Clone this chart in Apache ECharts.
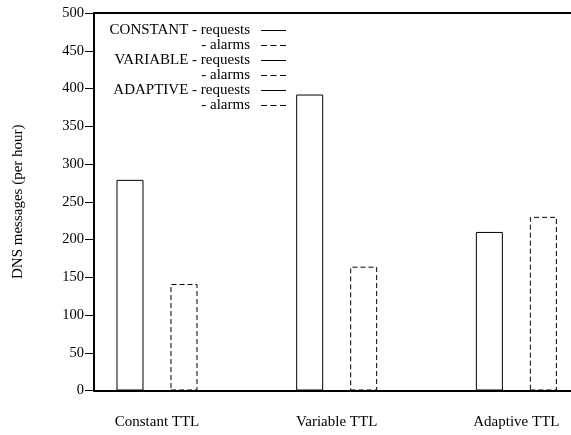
<!DOCTYPE html>
<html>
<head>
<meta charset="utf-8">
<script src="https://cdn.jsdelivr.net/npm/echarts@6/dist/echarts.min.js"></script>
<style>
  html, body { margin: 0; padding: 0; background: #fff; }
  #chart { width: 571px; height: 435px; }
</style>
</head>
<body>
<div id="chart"></div>
<script>
// DNS traffic per TTL strategy
const categories = ['Constant TTL', 'Variable TTL', 'Adaptive TTL'];
const strategies = ['CONSTANT', 'VARIABLE', 'ADAPTIVE'];
const requests = [279, 392, 210];
const alarms = [141, 164, 230];
const yTicks = [0, 50, 100, 150, 200, 250, 300, 350, 400, 450, 500];

const FONT = 'Liberation Serif, Times New Roman, serif';
const SOLID_ICON = 'path://M0,0H25V1H0Z';
const DASH_ICON = 'path://M0,0H6V1H0Z M9.5,0H15.5V1H9.5Z M19,0H25V1H19Z';

const legendLabels = {};
const legendData = [];
const series = [];

strategies.forEach((s, i) => {
  const reqName = s + ' requests';
  const almName = s + ' alarms';
  legendLabels[reqName] = s + ' - requests';
  legendLabels[almName] = '- alarms';
  legendData.push({ name: reqName, icon: SOLID_ICON });
  legendData.push({ name: almName, icon: DASH_ICON });

  series.push({
    name: reqName,
    type: 'bar',
    stack: 'requests',
    barWidth: 27,
    barGap: '100%',
    data: [[i, requests[i]]],
    itemStyle: { color: '#fff', borderColor: '#000', borderWidth: 1, borderType: 'solid' },
    emphasis: { disabled: true }
  });
  series.push({
    name: almName,
    type: 'bar',
    stack: 'alarms',
    barWidth: 27,
    barGap: '100%',
    data: [[i, alarms[i]]],
    itemStyle: { color: '#fff', borderColor: '#000', borderWidth: 1, borderType: [5, 3] },
    emphasis: { disabled: true }
  });
});

const xMin = -0.3506;
const xMax = 2.304;

const chart = echarts.init(document.getElementById('chart'), null, { renderer: 'canvas' });
chart.setOption({
  animation: false,
  backgroundColor: '#fff',
  textStyle: { fontFamily: FONT, color: '#000' },
  grid: { left: 94, right: 0, top: 13, bottom: 44.5, containLabel: false },
  legend: {
    data: legendData,
    orient: 'vertical',
    align: 'right',
    right: 285,
    top: 23,
    padding: 0,
    itemWidth: 25,
    itemHeight: 1,
    itemGap: 0,
    selectedMode: false,
    itemStyle: { color: '#000', borderWidth: 0, borderColor: 'transparent' },
    formatter: name => '{t|' + legendLabels[name] + '}',
    textStyle: {
      fontFamily: FONT,
      fontSize: 15,
      color: '#000',
      rich: { t: { fontFamily: FONT, fontSize: 15, color: '#000', padding: [0, 6, 0, 0] } }
    }
  },
  xAxis: [
    {
      type: 'value',
      position: 'bottom',
      min: xMin,
      max: xMax,
      axisLine: { show: true, onZero: false, lineStyle: { color: '#000', width: 2 } },
      axisTick: { show: false },
      splitLine: { show: false },
      axisLabel: {
        customValues: [0, 1, 2],
        formatter: v => categories[Math.round(v)],
        margin: 24,
        fontFamily: FONT,
        fontSize: 15,
        color: '#000'
      }
    },
    {
      type: 'value',
      position: 'top',
      min: xMin,
      max: xMax,
      axisLine: { show: true, onZero: false, lineStyle: { color: '#000', width: 2 } },
      axisTick: { show: false },
      axisLabel: { show: false },
      splitLine: { show: false }
    }
  ],
  yAxis: {
    type: 'value',
    position: 'left',
    min: yTicks[0],
    max: yTicks[yTicks.length - 1],
    interval: 50,
    name: 'DNS messages (per hour)',
    nameLocation: 'middle',
    nameGap: 68,
    nameTextStyle: { fontFamily: FONT, fontSize: 15, color: '#000' },
    axisLine: { show: true, onZero: false, lineStyle: { color: '#000', width: 2 } },
    axisTick: { show: true, length: 9, lineStyle: { color: '#000', width: 1 } },
    splitLine: { show: false },
    axisLabel: { margin: 10, fontFamily: FONT, fontSize: 14.5, color: '#000' }
  },
  series: series
});
</script>
</body>
</html>
